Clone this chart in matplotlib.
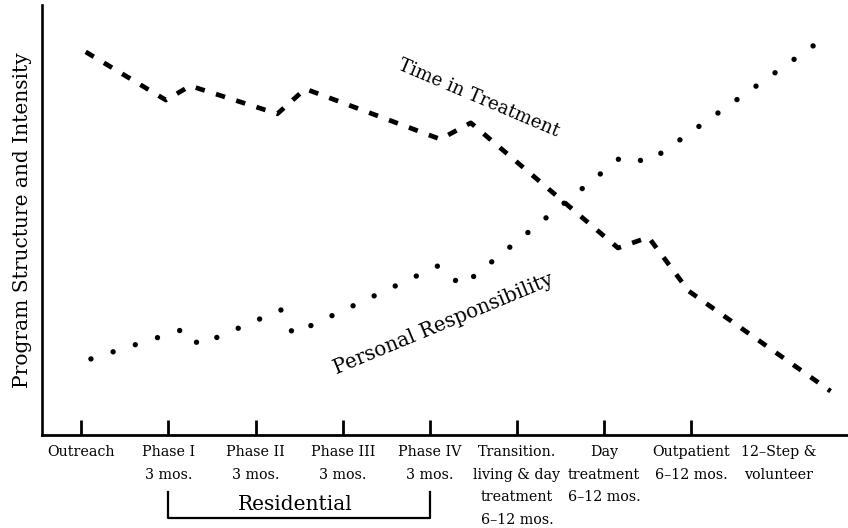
import numpy as np
import matplotlib
matplotlib.use('Agg')
import matplotlib.pyplot as plt

# stages along the x axis (last one has no tick mark)
stages = ['Outreach', 'Phase I\n3 mos.', 'Phase II\n3 mos.', 'Phase III\n3 mos.',
          'Phase IV\n3 mos.', 'Transition.\nliving & day\ntreatment\n6–12 mos.',
          'Day\ntreatment\n6–12 mos.', 'Outpatient\n6–12 mos.', '12–Step &\nvolunteer']
stage_pos = np.arange(len(stages))

# time in treatment (dashed)
time_x = [0.05, 0.97, 1.25, 2.25, 2.57, 4.12, 4.47, 6.16, 6.51, 6.97, 8.60]
time_y = [89.1, 77.9, 81.2, 74.7, 80.5, 68.8, 72.6, 43.5, 46.0, 33.5, 10.2]

# personal responsibility (dotted)
resp_x = [0.11, 1.19, 1.35, 2.29, 2.43, 4.09, 4.37, 6.20, 6.51, 8.40]
resp_y = [17.7, 24.7, 20.9, 29.1, 23.5, 39.3, 34.7, 64.7, 63.5, 90.5]

plt.rcParams['font.family'] = 'DejaVu Serif'

fig = plt.figure(figsize=(8.48, 5.28), dpi=100)
ax = fig.add_axes([0.0495, 0.1761, 0.9505, 0.8144])
ax.set_xlim(-0.452, 8.80)
ax.set_ylim(0, 100)

# pick the dot spacing so a dot lands on both ends of the dotted line
dot_lw = 3.9
pts = ax.transData.transform(np.column_stack([resp_x, resp_y]))
length = np.sum(np.hypot(*np.diff(pts, axis=0).T)) * 72 / fig.dpi / dot_lw
gap = (length - 0.05) / round(length / 4.3)

ax.plot(resp_x, resp_y, color='black', lw=dot_lw, linestyle=(0, (0.001, gap)),
        dash_capstyle='round', zorder=2)
ax.plot(time_x, time_y, color='black', lw=3.4, linestyle=(0, (2.0, 2.5)),
        dash_capstyle='butt', zorder=3)

ax.text(4.565, 78.4, 'Time in Treatment', rotation=-23, fontsize=13.2,
        ha='center', va='center', rotation_mode='anchor')
ax.text(4.16, 25.8, 'Personal Responsibility', rotation=22.5, fontsize=14.3,
        ha='center', va='center', rotation_mode='anchor')

ax.set_xticks(stage_pos)
ax.set_xticklabels(stages, fontsize=10.3, linespacing=1.8)
ax.tick_params(axis='x', direction='in', length=10.8, width=2, pad=7)
ax.xaxis.get_major_ticks()[-1].tick1line.set_visible(False)
ax.set_yticks([])
ax.set_ylabel('Program Structure and Intensity', fontsize=14.5, labelpad=7)

for s in ['top', 'right']:
    ax.spines[s].set_visible(False)
ax.spines['left'].set_linewidth(1.9)
ax.spines['bottom'].set_linewidth(2)

# residential bracket under phases I-IV
ax.plot([1, 1, 4, 4], [-13.3, -19.3, -19.3, -13.3], color='black', lw=1.6,
        clip_on=False)
ax.text(2.457, -16.2, 'Residential', fontsize=14.5, ha='center', va='center')

fig.savefig('out.png', dpi=100)
